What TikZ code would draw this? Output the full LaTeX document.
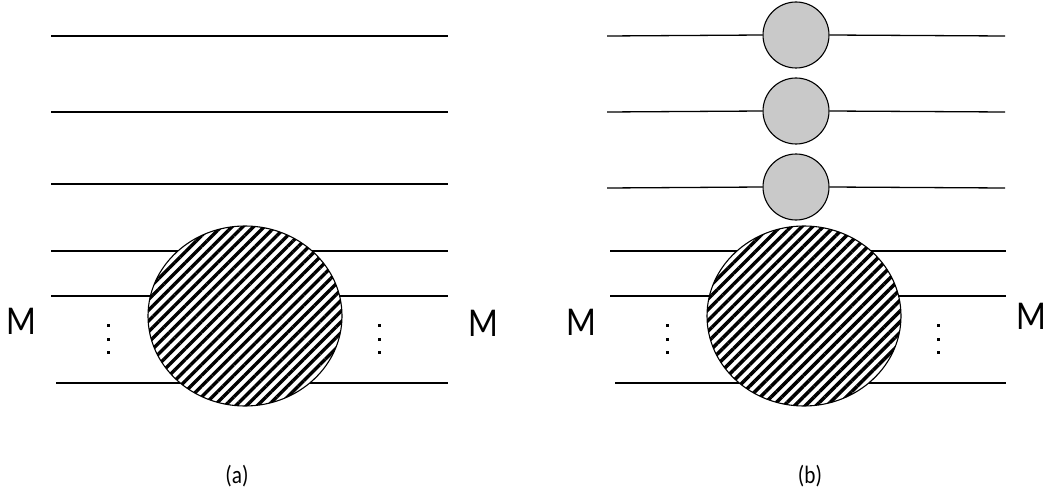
\documentclass[tikz,border=0pt]{standalone}
\usepackage{fontspec}
\setmainfont{Carlito}
\usetikzlibrary{positioning}
\usetikzlibrary{shapes.geometric}
\usetikzlibrary{patterns.meta}
\tikzset{leg/.style={line width=1.3pt},
blob/.style={ellipse, draw, line width=1.1pt, minimum width=194pt, minimum height=180pt, inner sep=0pt,
preaction={fill=white}, pattern={Lines[angle=45,distance=7.6pt,line width=3.4pt]}},
bead/.style={circle, draw, line width=1.1pt, fill=black!21, minimum size=66pt, inner sep=0pt},
mlab/.style={font=\fontsize{41}{46}\selectfont, inner sep=0pt},
sublab/.style={font=\fontsize{25}{30}\selectfont, inner sep=0pt}}

\begin{document}
\begin{tikzpicture}[x=1pt, y=1pt]
	\useasboundingbox (0,0) rectangle (1049,491);

	% (a)
	\foreach \y/\l [count=\i] in {455/51, 379/51, 307/51, 240/51, 195/51, 108/56} {
		\coordinate (aL\i) at (\l,\y);
		\coordinate (aR\i) at (448,\y);
		\draw[leg] (aL\i) -- (aR\i);
	}
	\node[blob] (A) at (245,175) {};
	\node[mlab] (mA1) at (21,170) {\scalebox{0.85}[1]{M}};
	\node[mlab] (mA2) at (483,168) {\scalebox{0.85}[1]{M}};
	\node[sublab] (labA) at (237,15) {\scalebox{0.85}[1]{(a)}};

	% (b)
	\foreach \y/\c [count=\i] in {455/456, 379/380, 303/304} {
		\node[bead] (g\i) at (796,\c) {};
		\coordinate (bL\i) at (607,\y);
		\coordinate (bR\i) at (1005,\y);
		\draw[leg] (bL\i) -- (g\i.west);
		\draw[leg] (g\i.east) -- (bR\i);
	}
	\foreach \y/\l [count=\i from 4] in {240/610, 195/610, 108/615} {
		\coordinate (bL\i) at (\l,\y);
		\coordinate (bR\i) at (1006,\y);
		\draw[leg] (bL\i) -- (bR\i);
	}
	\node[blob] (B) at (804,175) {};
	\node[mlab] (mB1) at (581,169) {\scalebox{0.85}[1]{M}};
	\node[mlab] (mB2) at (1031,175) {\scalebox{0.85}[1]{M}};
	\node[sublab] (labB) at (810,15) {\scalebox{0.85}[1]{(b)}};

	% dots
	\foreach \x in {108, 379, 667, 938}
		\foreach \y in {139, 152, 166}
			\fill (\x-1.5,\y-1.5) rectangle +(3,3);
\end{tikzpicture}
\end{document}
